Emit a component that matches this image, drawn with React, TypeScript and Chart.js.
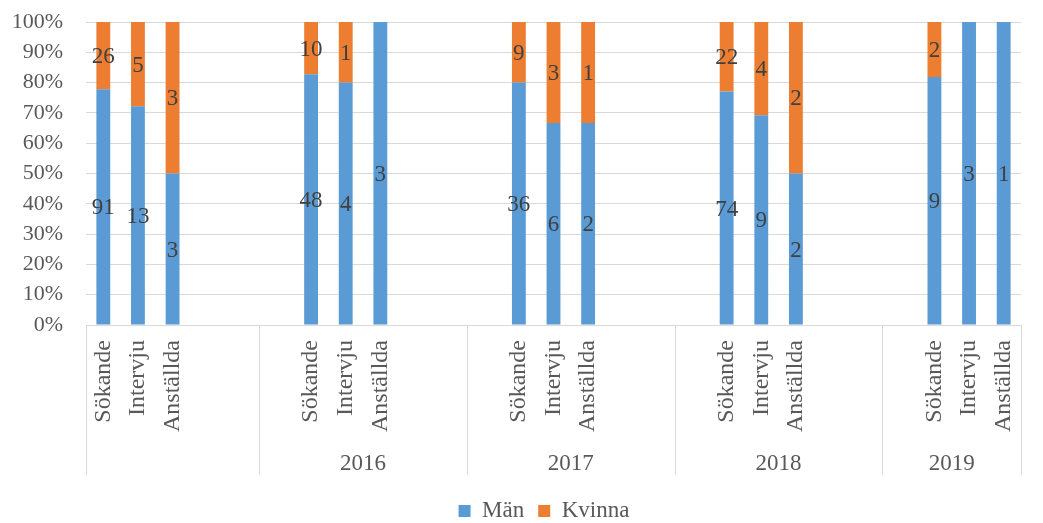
import React, { useEffect, useRef } from 'react';
import { Chart, registerables } from 'chart.js';

Chart.register(...registerables);

// Inner category level (one slot per bar position, blanks separate the years)
const categoryLabels = [
  'Sökande', 'Intervju', 'Anställda', '', '',
  '', 'Sökande', 'Intervju', 'Anställda', '', '',
  '', 'Sökande', 'Intervju', 'Anställda', '', '',
  '', 'Sökande', 'Intervju', 'Anställda', '', '',
  '', 'Sökande', 'Intervju', 'Anställda',
];

// Head counts per slot
const menCounts = [
  91, 13, 3, null, null,
  null, 48, 4, 3, null, null,
  null, 36, 6, 2, null, null,
  null, 74, 9, 2, null, null,
  null, 9, 3, 1,
];
const womenCounts = [
  26, 5, 3, null, null,
  null, 10, 1, 0, null, null,
  null, 9, 3, 1, null, null,
  null, 22, 4, 2, null, null,
  null, 2, 0, 0,
];

// Outer category level
const yearLabels = ['', '2016', '2017', '2018', '2019'];
const yearSpans = [5, 6, 6, 6, 4];

const seriesNames = ['Män', 'Kvinna'];
const seriesColors = ['#5B9BD5', '#ED7D31'];

const yStep = 10;

const SERIF = "'Times New Roman', 'Liberation Serif', serif";
const AXIS_TEXT = '#595959';
const LABEL_TEXT = '#404040';
const LINE = '#d9d9d9';

// Share of a slot's total, in percent
const share = (own: (number | null)[], other: (number | null)[]) =>
  own.map((v, i) => {
    if (v == null) return null;
    const total = v + (other[i] ?? 0);
    return total > 0 ? (v / total) * 100 : 0;
  });

const segmentCountsPlugin = {
  id: 'segmentCounts',
  afterDatasetsDraw(chart: any) {
    const ctx = chart.ctx;
    ctx.save();
    ctx.font = `23px ${SERIF}`;
    ctx.fillStyle = LABEL_TEXT;
    ctx.textAlign = 'center';
    ctx.textBaseline = 'middle';
    chart.data.datasets.forEach((ds: any, di: number) => {
      const meta = chart.getDatasetMeta(di);
      meta.data.forEach((bar: any, i: number) => {
        const n = ds.counts[i];
        if (!n) return;
        const { x, y, base } = bar.getProps(['x', 'y', 'base'], true);
        ctx.fillText(String(n), x, (y + base) / 2 + 1.5);
      });
    });
    ctx.restore();
  },
};

const yearAxisPlugin = {
  id: 'yearAxis',
  afterDraw(chart: any) {
    const xs = chart.scales.x;
    const ctx = chart.ctx;
    const top = chart.chartArea.bottom;
    const bounds: number[] = [xs.left];
    let idx = 0;
    yearSpans.forEach((span) => {
      idx += span;
      if (idx >= categoryLabels.length) bounds.push(xs.right);
      else bounds.push((xs.getPixelForValue(idx - 1) + xs.getPixelForValue(idx)) / 2);
    });
    ctx.save();
    ctx.strokeStyle = LINE;
    ctx.lineWidth = 1;
    bounds.forEach((bx) => {
      const px = Math.round(bx) + 0.5;
      ctx.beginPath();
      ctx.moveTo(px, top);
      ctx.lineTo(px, top + 150);
      ctx.stroke();
    });
    ctx.font = `23px ${SERIF}`;
    ctx.fillStyle = AXIS_TEXT;
    ctx.textAlign = 'center';
    ctx.textBaseline = 'alphabetic';
    yearLabels.forEach((label, k) => {
      if (!label) return;
      ctx.fillText(label, (bounds[k] + bounds[k + 1]) / 2, top + 145);
    });
    ctx.restore();
  },
};

const legendPlacePlugin = {
  id: 'legendPlace',
  afterLayout(chart: any) {
    const lg = chart.legend;
    if (!lg) return;
    const pad = lg.options.labels.padding;
    const dy = 511 - (lg.top + pad + 23 / 2);
    const dx = 544 - (lg.left + lg.right) / 2;
    lg.top += dy;
    lg.bottom += dy;
    lg.left += dx;
    lg.right += dx;
  },
};

export default function App() {
  const canvasRef = useRef<HTMLCanvasElement | null>(null);

  useEffect(() => {
    if (!canvasRef.current) return;
    const chart = new Chart(canvasRef.current, {
      type: 'bar',
      data: {
        labels: categoryLabels,
        datasets: [
          {
            label: seriesNames[0],
            data: share(menCounts, womenCounts),
            counts: menCounts,
            backgroundColor: seriesColors[0],
            borderWidth: 0,
          } as any,
          {
            label: seriesNames[1],
            data: share(womenCounts, menCounts),
            counts: womenCounts,
            backgroundColor: seriesColors[1],
            borderWidth: 0,
          } as any,
        ],
      },
      options: {
        responsive: false,
        animation: false,
        layout: { padding: { top: 22, right: 22, bottom: 0, left: 0 } },
        datasets: { bar: { categoryPercentage: 1, barPercentage: 0.4 } },
        scales: {
          x: {
            stacked: true,
            // invisible tick marks hold the gap between axis line and labels
            grid: { display: false, drawTicks: true, tickLength: 15, tickColor: 'rgba(0,0,0,0)' },
            border: { display: true, color: LINE, width: 1 },
            ticks: {
              autoSkip: false,
              minRotation: 90,
              maxRotation: 90,
              padding: 0,
              color: AXIS_TEXT,
              font: { family: SERIF, size: 24 },
            },
            afterFit: (s: any) => {
              const lh = s.chart.legend ? s.chart.legend.height : 0;
              s.height = s.chart.height - 325 - lh;
            },
          },
          y: {
            stacked: true,
            min: 0,
            max: 100,
            grid: { color: LINE, lineWidth: 1, drawTicks: true, tickLength: 23, tickColor: 'rgba(0,0,0,0)' },
            border: { display: false },
            ticks: {
              stepSize: yStep,
              autoSkip: false,
              padding: 0,
              color: AXIS_TEXT,
              font: { family: SERIF, size: 22 },
              callback: (v: any) => `${v}%`,
            },
            afterFit: (s: any) => {
              s.width = 86;
            },
          },
        },
        plugins: {
          tooltip: { enabled: false },
          legend: {
            position: 'bottom',
            labels: {
              boxWidth: 12,
              boxHeight: 12,
              padding: 14,
              color: AXIS_TEXT,
              font: { family: SERIF, size: 23 },
            },
          },
        },
      },
      plugins: [segmentCountsPlugin, yearAxisPlugin, legendPlacePlugin],
    });
    return () => chart.destroy();
  }, []);

  return (
    <div style={{ position: 'absolute', left: 0, top: 0, width: 1043, height: 523, background: '#fff' }}>
      <canvas ref={canvasRef} width={1043} height={523} />
    </div>
  );
}
